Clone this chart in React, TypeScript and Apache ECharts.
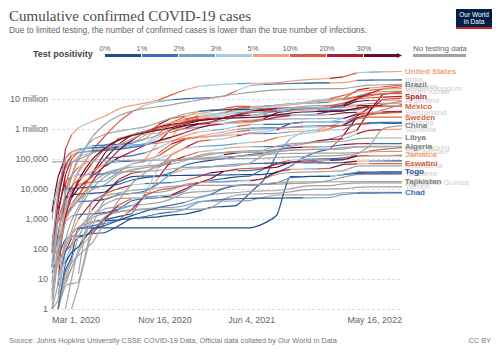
import React, { useEffect, useRef } from "react";
import * as echarts from "echarts";

const DATES = ["2020-03-01","2020-03-15","2020-04-01","2020-04-15","2020-05-01","2020-06-01","2020-07-01","2020-08-01","2020-09-01","2020-10-01","2020-11-01","2020-12-01","2021-01-01","2021-02-01","2021-03-01","2021-04-01","2021-05-01","2021-06-01","2021-07-01","2021-08-01","2021-09-01","2021-10-01","2021-11-01","2021-12-01","2022-01-01","2022-02-01","2022-03-01","2022-04-01","2022-05-16"];
const X_TICKS = ["2020-03-01", "2020-11-16", "2021-06-04", "2022-05-16"];
const POSITIVITY_TICKS = ["0%", "1%", "2%", "3%", "5%", "10%", "20%", "30%"];
const BAND_COLORS = ["#1f4e8c", "#3a6fb4", "#6aa3d0", "#a6cbe2", "#f0a17c", "#d9603f", "#b01c34", "#6e0b25", "#a3a3a3"];
const NO_DATA_LABEL = "No testing data";

// ---- labelled countries ----
const US = [75, 3500, 215e3, 640e3, 1.1e6, 1.8e6, 2.7e6, 4.6e6, 6.1e6, 7.3e6, 9.2e6, 13.7e6, 20e6, 26.3e6, 28.8e6, 30.5e6, 32.4e6, 33.3e6, 33.7e6, 35.2e6, 39.5e6, 43.6e6, 46.2e6, 48.6e6, 54.8e6, 74.6e6, 79.2e6, 80.2e6, 82.6e6];
const US_B = "56654344444554333244444465324";
const BRAZIL = [2, 200, 6.8e3, 28e3, 92e3, 530e3, 1.45e6, 2.7e6, 3.95e6, 4.85e6, 5.55e6, 6.4e6, 7.7e6, 9.2e6, 10.6e6, 12.8e6, 14.7e6, 16.6e6, 18.6e6, 20e6, 20.8e6, 21.4e6, 21.9e6, 22.1e6, 22.3e6, 25.9e6, 28.8e6, 29.9e6, 30.7e6];
const SPAIN = [84, 7.8e3, 104e3, 177e3, 215e3, 240e3, 250e3, 290e3, 470e3, 770e3, 1.26e6, 1.65e6, 1.93e6, 2.8e6, 3.17e6, 3.3e6, 3.55e6, 3.7e6, 3.82e6, 4.45e6, 4.87e6, 4.96e6, 5.03e6, 5.2e6, 6.3e6, 10.0e6, 11.0e6, 11.6e6, 12.3e6];
const SPAIN_B = "88884213445445333245322467556";
const MEXICO = [4, 41, 1.2e3, 5.4e3, 20e3, 94e3, 230e3, 425e3, 600e3, 750e3, 930e3, 1.11e6, 1.43e6, 1.87e6, 2.09e6, 2.25e6, 2.35e6, 2.43e6, 2.59e6, 2.9e6, 3.4e6, 3.68e6, 3.83e6, 3.9e6, 3.98e6, 5.0e6, 5.5e6, 5.7e6, 5.75e6];
const MEXICO_B = "88667777777777777777777777655";
const SWEDEN = [7, 1.0e3, 4.9e3, 12e3, 21e3, 38e3, 70e3, 81e3, 84e3, 94e3, 125e3, 244e3, 437e3, 567e3, 680e3, 800e3, 980e3, 1.07e6, 1.09e6, 1.1e6, 1.14e6, 1.15e6, 1.18e6, 1.22e6, 1.32e6, 2.2e6, 2.47e6, 2.49e6, 2.5e6];
const SWEDEN_B = "88565442124554444211223456555";
const CHINA = [80e3, 81e3, 82e3, 82.5e3, 83e3, 83.5e3, 84.8e3, 88e3, 90e3, 90.6e3, 91.4e3, 93e3, 96e3, 100e3, 101e3, 102e3, 102.8e3, 104e3, 106e3, 112e3, 116e3, 120e3, 125e3, 128e3, 135e3, 150e3, 260e3, 1.0e6, 1.3e6];
const LIBYA = [null, null, 10, 35, 61, 156, 800, 4.0e3, 15e3, 35e3, 64e3, 90e3, 100e3, 120e3, 140e3, 165e3, 180e3, 190e3, 200e3, 270e3, 320e3, 340e3, 360e3, 375e3, 390e3, 470e3, 500e3, 501e3, 502e3];
const ALGERIA = [1, 48, 850, 2.2e3, 4.15e3, 9.5e3, 14e3, 31e3, 44.5e3, 51.5e3, 58e3, 83e3, 99.6e3, 107e3, 113e3, 117e3, 123e3, 129e3, 140e3, 176e3, 198e3, 204e3, 207e3, 209e3, 218e3, 253e3, 265e3, 265.7e3, 265.8e3];
const JAMAICA = [null, 10, 44, 105, 470, 590, 700, 900, 2.1e3, 6.0e3, 9.0e3, 10.7e3, 13e3, 16e3, 22e3, 39e3, 46e3, 49e3, 50.5e3, 53e3, 79e3, 86e3, 90e3, 91.7e3, 96e3, 125e3, 129e3, 130e3, 136e3];
const JAMAICA_B = "88334112565555676557765477544";
const ESWATINI = [null, 1, 9, 22, 100, 300, 1.0e3, 2.9e3, 4.8e3, 5.4e3, 5.9e3, 6.4e3, 9.9e3, 16.5e3, 17.1e3, 17.4e3, 18.4e3, 18.6e3, 22e3, 38e3, 45e3, 46.5e3, 46.9e3, 49e3, 66e3, 69e3, 69.5e3, 70e3, 70.5e3];
const ESWATINI_B = "88883456532366422367642576455";
const TOGO = [null, 1, 34, 77, 120, 440, 600, 900, 1.3e3, 1.8e3, 2.4e3, 2.9e3, 3.6e3, 5.0e3, 6.5e3, 10.5e3, 12.9e3, 13.5e3, 14.2e3, 16e3, 24e3, 26e3, 26.3e3, 26.5e3, 31e3, 36.5e3, 36.9e3, 36.95e3, 37e3];
const TOGO_B = "88100001001112211001210032000";
const TAJIKISTAN = [null, null, null, null, 15, 4.0e3, 6.0e3, 7.4e3, 8.9e3, 9.9e3, 11e3, 12.3e3, 13.3e3, 13.3e3, 13.3e3, 13.3e3, 13.3e3, 13.3e3, 14.5e3, 16.5e3, 17e3, 17.3e3, 17.35e3, 17.4e3, 17.5e3, 17.7e3, 17.75e3, 17.78e3, 17.8e3];
const CHAD = [null, null, 7, 23, 73, 780, 870, 940, 1.03e3, 1.2e3, 1.5e3, 1.7e3, 2.1e3, 3.6e3, 4.2e3, 4.5e3, 4.8e3, 4.9e3, 4.95e3, 5.0e3, 5.03e3, 5.05e3, 5.1e3, 5.2e3, 6.6e3, 7.2e3, 7.3e3, 7.35e3, 7.4e3];
const CHAD_B = "88888880011122211100002222111";

// ---- background-labelled countries ----
const INDIA = [3, 110, 1.9e3, 12e3, 35e3, 190e3, 585e3, 1.7e6, 3.7e6, 6.3e6, 8.2e6, 9.46e6, 10.3e6, 10.75e6, 11.1e6, 12.2e6, 19.2e6, 28.2e6, 30.4e6, 31.7e6, 32.8e6, 33.8e6, 34.3e6, 34.6e6, 34.9e6, 41.6e6, 42.9e6, 43.02e6, 43.1e6];
const INDIA_B = "88334455543211145321110044100";
const GERMANY = [117, 5.8e3, 72e3, 128e3, 160e3, 182e3, 195e3, 208e3, 243e3, 292e3, 530e3, 1.06e6, 1.76e6, 2.23e6, 2.44e6, 2.86e6, 3.4e6, 3.69e6, 3.74e6, 3.78e6, 3.99e6, 4.24e6, 4.79e6, 5.96e6, 7.13e6, 9.9e6, 15.0e6, 21.6e6, 25.9e6];
const GERMANY_B = "88653211113455433211244556665";
const UK = [36, 1.4e3, 30e3, 99e3, 178e3, 276e3, 290e3, 305e3, 338e3, 460e3, 1.03e6, 1.64e6, 2.5e6, 3.85e6, 4.19e6, 4.35e6, 4.43e6, 4.49e6, 4.85e6, 5.88e6, 6.8e6, 7.8e6, 9.13e6, 10.3e6, 13.2e6, 17.5e6, 19.3e6, 21.2e6, 22.2e6];
const UK_B = "88765311124454100023333355454";
const KOREA = [3.7e3, 8.1e3, 9.9e3, 10.6e3, 10.8e3, 11.5e3, 12.8e3, 14.3e3, 20e3, 23.9e3, 26.7e3, 35e3, 61.8e3, 78.5e3, 90e3, 103e3, 123e3, 141e3, 157e3, 202e3, 261e3, 317e3, 370e3, 460e3, 630e3, 905e3, 3.69e6, 13.9e6, 17.9e6];
const KOREA_B = "83210000100111001112222325775";
const ARGENTINA = [null, 45, 1.05e3, 2.4e3, 4.4e3, 17e3, 65e3, 191e3, 418e3, 780e3, 1.17e6, 1.43e6, 1.63e6, 1.93e6, 2.12e6, 2.39e6, 3.0e6, 3.78e6, 4.5e6, 4.94e6, 5.2e6, 5.26e6, 5.3e6, 5.35e6, 5.7e6, 8.3e6, 8.9e6, 9.04e6, 9.1e6];
const ARGENTINA_B = "88455566777766656676543227754";
const SWITZERLAND = [24, 2.2e3, 17.8e3, 26e3, 29.6e3, 30.8e3, 31.7e3, 35.4e3, 42e3, 52e3, 155e3, 319e3, 453e3, 520e3, 557e3, 601e3, 660e3, 694e3, 704e3, 722e3, 802e3, 847e3, 882e3, 1.05e6, 1.39e6, 2.36e6, 2.97e6, 3.39e6, 3.6e6];
const SWITZERLAND_B = "88653212333565443321243456655";
const GEORGIA = [null, 33, 115, 300, 540, 800, 935, 1.2e3, 1.5e3, 6.8e3, 52e3, 135e3, 227e3, 258e3, 274e3, 290e3, 325e3, 357e3, 385e3, 520e3, 620e3, 700e3, 800e3, 935e3, 940e3, 1.47e6, 1.64e6, 1.652e6, 1.655e6];
const GEORGIA_B = "88888810013543222345433435511";
const SLOVENIA = [null, 181, 814, 1.25e3, 1.43e3, 1.47e3, 1.62e3, 2.1e3, 2.8e3, 4.8e3, 24e3, 82e3, 123e3, 171e3, 191e3, 223e3, 248e3, 256e3, 257e3, 260e3, 287e3, 330e3, 400e3, 450e3, 468e3, 690e3, 900e3, 960e3, 990e3];
const SLOVENIA_B = "88542101234665434421145663664";
const LUXEMBOURG = [null, 38, 2.3e3, 3.3e3, 3.8e3, 4.0e3, 4.5e3, 6.6e3, 7.1e3, 8.6e3, 15e3, 33e3, 46e3, 50e3, 55e3, 62e3, 67e3, 70e3, 71e3, 74e3, 77e3, 79e3, 84e3, 93e3, 102e3, 150e3, 185e3, 210e3, 240e3];
const LUXEMBOURG_B = "88443100111243222210111123455";
const AFGHANISTAN = [1, 7, 190, 900, 2.5e3, 15.2e3, 31.8e3, 36.7e3, 38.2e3, 39.3e3, 41.7e3, 46.5e3, 52.3e3, 55e3, 55.7e3, 56.9e3, 60e3, 75e3, 135e3, 149e3, 153e3, 155e3, 157e3, 158e3, 158.1e3, 163e3, 174e3, 178e3, 179e3];
const MAURITANIA = [null, 1, 6, 7, 8, 530, 4.5e3, 6.2e3, 7.2e3, 7.5e3, 7.7e3, 9.4e3, 14.4e3, 16.5e3, 17.3e3, 18e3, 19e3, 19.8e3, 22e3, 31e3, 35.5e3, 36.6e3, 37.4e3, 39e3, 40.8e3, 58e3, 58.6e3, 58.7e3, 58.7e3];
const TANZANIA = [null, 1, 20, 53, 480, 509, 509, 509, 509, 509, 509, 509, 509, 509, 509, 509, 509, 509, 700, 1.37e3, 25.8e3, 26.0e3, 26.2e3, 26.5e3, 30e3, 33.1e3, 33.7e3, 33.8e3, 33.9e3];
const TANZANIA_B = "880";
const EQ_GUINEA = [null, 1, 15, 41, 258, 1.3e3, 3.1e3, 4.8e3, 5.0e3, 5.06e3, 5.1e3, 5.2e3, 5.3e3, 5.4e3, 6.5e3, 7.2e3, 7.6e3, 8.4e3, 8.7e3, 8.9e3, 10.2e3, 12.2e3, 12.9e3, 13.0e3, 14.8e3, 15.8e3, 15.9e3, 15.9e3, 15.9e3];
const YEMEN = [null, null, null, 1, 6, 320, 1.2e3, 1.7e3, 1.95e3, 2.04e3, 2.06e3, 2.1e3, 2.1e3, 2.12e3, 2.3e3, 4.5e3, 6.3e3, 6.8e3, 6.95e3, 7.1e3, 8.0e3, 9.3e3, 9.9e3, 10.1e3, 10.2e3, 11.3e3, 11.75e3, 11.8e3, 11.82e3];

// ---- unlabelled countries ----
const FRANCE = [130, 5.4e3, 57e3, 134e3, 168e3, 189e3, 202e3, 225e3, 320e3, 620e3, 1.4e6, 2.27e6, 2.7e6, 3.28e6, 3.75e6, 4.75e6, 5.67e6, 5.72e6, 5.85e6, 6.2e6, 6.95e6, 7.1e6, 7.35e6, 7.95e6, 10.2e6, 19.7e6, 23.1e6, 25.5e6, 29.3e6];
const FRANCE_B = "88765311245654445531242135645";
const ITALY = [1.7e3, 24.7e3, 110e3, 165e3, 206e3, 233e3, 241e3, 247e3, 269e3, 314e3, 680e3, 1.6e6, 2.1e6, 2.55e6, 2.94e6, 3.6e6, 4.04e6, 4.22e6, 4.26e6, 4.36e6, 4.54e6, 4.67e6, 4.78e6, 5.03e6, 6.4e6, 11.1e6, 12.8e6, 14.7e6, 17.2e6];
const ITALY_B = "87754211123544344311211234555";
const RUSSIA = [null, 63, 2.8e3, 24.5e3, 114e3, 415e3, 654e3, 845e3, 1.0e6, 1.18e6, 1.64e6, 2.32e6, 3.16e6, 3.83e6, 4.26e6, 4.54e6, 4.81e6, 5.11e6, 5.61e6, 6.27e6, 6.94e6, 7.55e6, 8.6e6, 9.7e6, 10.5e6, 12.3e6, 16.3e6, 17.5e6, 18.2e6];
const TURKEY = [null, 6, 13.5e3, 69e3, 122e3, 164e3, 200e3, 231e3, 273e3, 318e3, 372e3, 500e3, 2.2e6, 2.49e6, 2.7e6, 3.3e6, 4.85e6, 5.25e6, 5.44e6, 5.76e6, 6.35e6, 7.15e6, 8.3e6, 8.93e6, 9.55e6, 11.6e6, 14.3e6, 14.9e6, 15.07e6];
const TURKEY_B = "88654322333345435543444445655";
const JAPAN = [240, 810, 2.4e3, 8.1e3, 14.3e3, 16.9e3, 18.8e3, 36e3, 68e3, 83e3, 101e3, 147e3, 235e3, 388e3, 432e3, 472e3, 592e3, 747e3, 800e3, 935e3, 1.52e6, 1.71e6, 1.72e6, 1.727e6, 1.733e6, 2.71e6, 5.0e6, 6.5e6, 8.4e6];
const JAPAN_B = "85677522553346534643772111765";
const IRAN = [980, 13.9e3, 47.6e3, 76.4e3, 95.6e3, 154e3, 230e3, 305e3, 375e3, 461e3, 620e3, 962e3, 1.23e6, 1.42e6, 1.65e6, 1.95e6, 2.52e6, 2.9e6, 3.25e6, 4.02e6, 5.1e6, 5.6e6, 5.99e6, 6.13e6, 6.2e6, 6.31e6, 7.07e6, 7.18e6, 7.23e6];
const COLOMBIA = [null, 34, 1.07e3, 3.1e3, 6.5e3, 30e3, 100e3, 295e3, 616e3, 830e3, 1.05e6, 1.3e6, 1.64e6, 2.1e6, 2.25e6, 2.43e6, 2.9e6, 3.48e6, 4.26e6, 4.78e6, 4.91e6, 4.96e6, 5.01e6, 5.08e6, 5.18e6, 5.86e6, 6.07e6, 6.09e6, 6.1e6];
const COLOMBIA_B = "88345567776556655677632224753";
const PERU = [null, 38, 1.06e3, 10.3e3, 40.5e3, 165e3, 286e3, 423e3, 652e3, 818e3, 903e3, 964e3, 1.02e6, 1.15e6, 1.34e6, 1.55e6, 1.84e6, 1.98e6, 2.07e6, 2.12e6, 2.16e6, 2.18e6, 2.21e6, 2.25e6, 2.3e6, 3.2e6, 3.5e6, 3.54e6, 3.57e6];
const CANADA = [24, 340, 9.5e3, 28e3, 54e3, 91e3, 104e3, 116e3, 129e3, 159e3, 235e3, 378e3, 590e3, 787e3, 875e3, 990e3, 1.23e6, 1.39e6, 1.42e6, 1.43e6, 1.5e6, 1.64e6, 1.72e6, 1.8e6, 2.23e6, 3.06e6, 3.3e6, 3.46e6, 3.85e6];
const CANADA_B = "82355431112344323531123337656";
const AUSTRALIA = [27, 300, 4.8e3, 6.4e3, 6.8e3, 7.2e3, 7.9e3, 17e3, 25.7e3, 27.1e3, 27.6e3, 27.9e3, 28.4e3, 28.8e3, 29e3, 29.3e3, 29.8e3, 30.1e3, 30.9e3, 35e3, 57e3, 111e3, 169e3, 213e3, 612e3, 2.45e6, 3.1e6, 4.3e6, 6.7e6];
const AUSTRALIA_B = "81100000000000000000111157455";
const POLAND = [null, 119, 2.5e3, 7.6e3, 12.9e3, 23.8e3, 34.4e3, 46e3, 67e3, 95e3, 380e3, 1.0e6, 1.3e6, 1.52e6, 1.71e6, 2.36e6, 2.8e6, 2.87e6, 2.88e6, 2.88e6, 2.89e6, 2.93e6, 3.2e6, 3.8e6, 4.1e6, 4.9e6, 5.7e6, 5.98e6, 6.0e6];
const POLAND_B = "88334432334677667731113677775";
const INDONESIA = [null, 117, 1.68e3, 5.1e3, 10.5e3, 26.5e3, 57.8e3, 109e3, 177e3, 287e3, 411e3, 538e3, 751e3, 1.08e6, 1.33e6, 1.51e6, 1.67e6, 1.82e6, 2.2e6, 3.44e6, 4.1e6, 4.22e6, 4.25e6, 4.26e6, 4.26e6, 4.35e6, 5.59e6, 6.02e6, 6.05e6];
const INDONESIA_B = "88887667666766765557763101563";
const VIETNAM = [16, 56, 212, 268, 270, 328, 355, 590, 1.04e3, 1.1e3, 1.18e3, 1.35e3, 1.47e3, 1.84e3, 2.45e3, 2.6e3, 2.9e3, 7.6e3, 19e3, 150e3, 480e3, 790e3, 955e3, 1.27e6, 1.73e6, 2.1e6, 3.9e6, 9.7e6, 10.7e6];
const VIETNAM_B = "80000000000000000001233333465";
const SOUTH_AFRICA = [null, 51, 1.35e3, 2.6e3, 5.6e3, 32.7e3, 159e3, 482e3, 628e3, 674e3, 725e3, 790e3, 1.06e6, 1.45e6, 1.51e6, 1.55e6, 1.58e6, 1.67e6, 2.0e6, 2.48e6, 2.78e6, 2.91e6, 2.92e6, 2.99e6, 3.46e6, 3.61e6, 3.68e6, 3.72e6, 3.86e6];
const SOUTH_AFRICA_B = "88323576533457633456632267436";
const PAKISTAN = [4, 53, 2.0e3, 6.5e3, 16.8e3, 72e3, 213e3, 278e3, 296e3, 313e3, 333e3, 400e3, 482e3, 550e3, 581e3, 672e3, 821e3, 924e3, 960e3, 1.04e6, 1.13e6, 1.25e6, 1.28e6, 1.29e6, 1.3e6, 1.45e6, 1.52e6, 1.526e6, 1.529e6];
const PAKISTAN_B = "88666655322455434533552111621";
const KENYA = [null, 3, 81, 234, 396, 1.96e3, 6.9e3, 20.6e3, 34e3, 38.5e3, 54e3, 84e3, 96.6e3, 101e3, 106e3, 140e3, 161e3, 171e3, 185e3, 205e3, 236e3, 250e3, 254e3, 256e3, 300e3, 322e3, 323e3, 323.7e3, 324e3];
const KENYA_B = "88864467654674237545675217611";
const NIGERIA = [1, 2, 139, 407, 1.93e3, 10.2e3, 25.7e3, 43.2e3, 53.7e3, 58.8e3, 62.9e3, 67.4e3, 87.5e3, 131e3, 156e3, 163e3, 165e3, 167e3, 168e3, 177e3, 193e3, 206e3, 212e3, 214e3, 243e3, 253e3, 254.8e3, 255.5e3, 256e3];
const SENEGAL = [null, 24, 190, 315, 1.0e3, 3.7e3, 6.9e3, 10.3e3, 13.6e3, 15e3, 15.6e3, 16.2e3, 19.2e3, 25.5e3, 34.7e3, 39e3, 40.6e3, 41.5e3, 48e3, 68e3, 73.4e3, 73.9e3, 74e3, 74.1e3, 75.6e3, 85.2e3, 85.8e3, 85.9e3, 86e3];
const SENEGAL_B = "88434655631125673116731017410";
const RWANDA = [null, 7, 82, 138, 243, 370, 1.04e3, 2.1e3, 4.06e3, 4.8e3, 5.2e3, 5.9e3, 8.4e3, 15.5e3, 19.5e3, 22.3e3, 25.4e3, 27.1e3, 46.7e3, 73.3e3, 91e3, 98e3, 100e3, 101e3, 109e3, 129e3, 129.5e3, 129.7e3, 129.8e3];
const RWANDA_B = "88111000110012210016531006400";
const MALI = [null, null, 31, 144, 490, 1.27e3, 2.2e3, 2.5e3, 2.8e3, 3.1e3, 3.5e3, 4.7e3, 7.3e3, 8.1e3, 8.5e3, 10.6e3, 13.6e3, 14.3e3, 14.4e3, 14.6e3, 15.1e3, 15.5e3, 16.5e3, 19.5e3, 25e3, 30e3, 30.5e3, 30.6e3, 31e3];
const SIERRA_LEONE = [null, null, 1, 10, 101, 1.06e3, 1.52e3, 1.8e3, 2.03e3, 2.2e3, 2.37e3, 2.4e3, 2.8e3, 3.8e3, 3.9e3, 3.96e3, 4.0e3, 4.17e3, 5.3e3, 6.3e3, 6.4e3, 6.4e3, 6.4e3, 6.4e3, 7.5e3, 7.65e3, 7.67e3, 7.67e3, 7.68e3];

type Kind = "bold" | "faint" | "none";
type Country = { name: string; values: (number | null)[]; bands: string; kind: Kind };

const COUNTRIES: Country[] = [
  { name: "France", values: FRANCE, bands: FRANCE_B, kind: "none" },
  { name: "Italy", values: ITALY, bands: ITALY_B, kind: "none" },
  { name: "Russia", values: RUSSIA, bands: "8", kind: "none" },
  { name: "Turkey", values: TURKEY, bands: TURKEY_B, kind: "none" },
  { name: "Japan", values: JAPAN, bands: JAPAN_B, kind: "none" },
  { name: "Iran", values: IRAN, bands: "8", kind: "none" },
  { name: "Colombia", values: COLOMBIA, bands: COLOMBIA_B, kind: "none" },
  { name: "Peru", values: PERU, bands: "8", kind: "none" },
  { name: "Canada", values: CANADA, bands: CANADA_B, kind: "none" },
  { name: "Australia", values: AUSTRALIA, bands: AUSTRALIA_B, kind: "none" },
  { name: "Poland", values: POLAND, bands: POLAND_B, kind: "none" },
  { name: "Indonesia", values: INDONESIA, bands: INDONESIA_B, kind: "none" },
  { name: "Vietnam", values: VIETNAM, bands: VIETNAM_B, kind: "none" },
  { name: "South Africa", values: SOUTH_AFRICA, bands: SOUTH_AFRICA_B, kind: "none" },
  { name: "Pakistan", values: PAKISTAN, bands: PAKISTAN_B, kind: "none" },
  { name: "Kenya", values: KENYA, bands: KENYA_B, kind: "none" },
  { name: "Nigeria", values: NIGERIA, bands: "8", kind: "none" },
  { name: "Senegal", values: SENEGAL, bands: SENEGAL_B, kind: "none" },
  { name: "Rwanda", values: RWANDA, bands: RWANDA_B, kind: "none" },
  { name: "Mali", values: MALI, bands: "8", kind: "none" },
  { name: "Sierra Leone", values: SIERRA_LEONE, bands: "8", kind: "none" },
  { name: "India", values: INDIA, bands: INDIA_B, kind: "faint" },
  { name: "Germany", values: GERMANY, bands: GERMANY_B, kind: "faint" },
  { name: "United Kingdom", values: UK, bands: UK_B, kind: "faint" },
  { name: "South Korea", values: KOREA, bands: KOREA_B, kind: "faint" },
  { name: "Argentina", values: ARGENTINA, bands: ARGENTINA_B, kind: "faint" },
  { name: "Switzerland", values: SWITZERLAND, bands: SWITZERLAND_B, kind: "faint" },
  { name: "Georgia", values: GEORGIA, bands: GEORGIA_B, kind: "faint" },
  { name: "Slovenia", values: SLOVENIA, bands: SLOVENIA_B, kind: "faint" },
  { name: "Luxembourg", values: LUXEMBOURG, bands: LUXEMBOURG_B, kind: "faint" },
  { name: "Afghanistan", values: AFGHANISTAN, bands: "8", kind: "faint" },
  { name: "Mauritania", values: MAURITANIA, bands: "8", kind: "faint" },
  { name: "Tanzania", values: TANZANIA, bands: TANZANIA_B, kind: "faint" },
  { name: "Equatorial Guinea", values: EQ_GUINEA, bands: "8", kind: "faint" },
  { name: "Yemen", values: YEMEN, bands: "8", kind: "faint" },
  { name: "United States", values: US, bands: US_B, kind: "bold" },
  { name: "Brazil", values: BRAZIL, bands: "8", kind: "bold" },
  { name: "Spain", values: SPAIN, bands: SPAIN_B, kind: "bold" },
  { name: "Mexico", values: MEXICO, bands: MEXICO_B, kind: "bold" },
  { name: "Sweden", values: SWEDEN, bands: SWEDEN_B, kind: "bold" },
  { name: "China", values: CHINA, bands: "8", kind: "bold" },
  { name: "Libya", values: LIBYA, bands: "8", kind: "bold" },
  { name: "Algeria", values: ALGERIA, bands: "8", kind: "bold" },
  { name: "Jamaica", values: JAMAICA, bands: JAMAICA_B, kind: "bold" },
  { name: "Eswatini", values: ESWATINI, bands: ESWATINI_B, kind: "bold" },
  { name: "Togo", values: TOGO, bands: TOGO_B, kind: "bold" },
  { name: "Tajikistan", values: TAJIKISTAN, bands: "8", kind: "bold" },
  { name: "Chad", values: CHAD, bands: CHAD_B, kind: "bold" },
];

const FONT = "'Liberation Sans', Arial, sans-serif";
const MONTHS = ["Jan", "Feb", "Mar", "Apr", "May", "Jun", "Jul", "Aug", "Sep", "Oct", "Nov", "Dec"];

function T(s: string): number {
  const [y, m, d] = s.split("-").map(Number);
  return Date.UTC(y, m - 1, d);
}

function fmtDate(v: number): string {
  const d = new Date(v);
  return `${MONTHS[d.getUTCMonth()]} ${d.getUTCDate()}, ${d.getUTCFullYear()}`;
}

function padBands(s: string): string {
  let r = s;
  while (r.length < DATES.length) r += r[r.length - 1];
  return r.slice(0, DATES.length);
}

function buildSeries(): any[] {
  const out: any[] = [];
  COUNTRIES.forEach((c) => {
    const b = padBands(c.bands);
    const pts = DATES.map((d, i) => [T(d), c.values[i]]);
    const first = c.values.findIndex((v) => v != null);
    const runs: { band: number; start: number; end: number }[] = [];
    for (let i = first + 1; i < DATES.length; i++) {
      const band = Number(b[i]);
      const last = runs[runs.length - 1];
      if (last && last.band === band) last.end = i;
      else runs.push({ band, start: i - 1, end: i });
    }
    runs.forEach((r, k) => {
      const isLast = k === runs.length - 1;
      const labelColor =
        c.kind === "faint" ? "#d0d0d0" : r.band === 8 ? "#7f7f7f" : BAND_COLORS[r.band];
      out.push({
        type: "line",
        name: c.name,
        data: pts.slice(r.start, r.end + 1),
        symbol: "none",
        smooth: 0.2,
        silent: true,
        z: c.kind === "bold" ? 4 : c.kind === "faint" ? 3 : 2,
        lineStyle: { width: 1.2, color: BAND_COLORS[r.band] },
        emphasis: { disabled: true },
        endLabel:
          isLast && c.kind !== "none"
            ? {
                show: true,
                formatter: c.name,
                color: labelColor,
                fontSize: 8,
                fontFamily: FONT,
                fontWeight: c.kind === "bold" ? "bold" : "normal",
                distance: 3,
              }
            : { show: false },
      });
    });
  });
  return out;
}

function buildGraphics(): any[] {
  const g: any[] = [];
  const txt = (text: string, x: number, y: number, font: string, fill: string, align = "left") => ({
    type: "text",
    x,
    y,
    silent: true,
    style: { text, font, fill, align, verticalAlign: "middle" },
  });
  g.push(txt("Cumulative confirmed COVID-19 cases", 9, 16, "15px 'Liberation Serif', serif", "#4d4d4d"));
  g.push(
    txt(
      "Due to limited testing, the number of confirmed cases is lower than the true number of infections.",
      9,
      29.5,
      `8.4px ${FONT}`,
      "#666"
    )
  );
  g.push(txt("Test positivity", 33, 54, `bold 9px ${FONT}`, "#444"));
  const x0 = 105;
  const seg = 37;
  POSITIVITY_TICKS.forEach((t, i) => {
    const isLast = i === POSITIVITY_TICKS.length - 1;
    g.push({
      type: "rect",
      silent: true,
      shape: { x: x0 + i * seg, y: 54, width: isLast ? seg - 4 : seg - 1, height: 3 },
      style: { fill: BAND_COLORS[i] },
    });
    if (isLast) {
      const xe = x0 + i * seg + seg - 4;
      g.push({
        type: "polygon",
        silent: true,
        shape: { points: [[xe, 53], [xe + 5, 55.5], [xe, 58]] },
        style: { fill: BAND_COLORS[i] },
      });
    }
    g.push(txt(t, x0 + i * seg, 48.3, `7.5px ${FONT}`, "#666", "center"));
  });
  g.push(txt(NO_DATA_LABEL, 413, 48.3, `8px ${FONT}`, "#666"));
  g.push({ type: "rect", silent: true, shape: { x: 413, y: 54, width: 53, height: 3 }, style: { fill: BAND_COLORS[8] } });
  g.push({ type: "rect", silent: true, shape: { x: 456, y: 9, width: 36, height: 20 }, style: { fill: "#002147" } });
  g.push({ type: "rect", silent: true, shape: { x: 456, y: 27, width: 36, height: 2 }, style: { fill: "#ce261e" } });
  g.push(txt("Our World", 474, 14.5, `6.5px ${FONT}`, "#fff", "center"));
  g.push(txt("in Data", 474, 21.5, `6.5px ${FONT}`, "#fff", "center"));
  g.push(
    txt(
      "Source: Johns Hopkins University CSSE COVID-19 Data, Official data collated by Our World in Data",
      9,
      340.5,
      `7.4px ${FONT}`,
      "#777"
    )
  );
  g.push(txt("CC BY", 491, 340.5, `7.4px ${FONT}`, "#777", "right"));
  return g;
}

export default function App() {
  const ref = useRef<HTMLDivElement>(null);
  useEffect(() => {
    if (!ref.current) return;
    const chart = echarts.init(ref.current, undefined, { renderer: "svg" });
    chart.setOption({
      animation: false,
      backgroundColor: "#fff",
      textStyle: { fontFamily: FONT },
      grid: { left: 52, right: 98, top: 69, bottom: 44 },
      xAxis: {
        type: "value",
        min: T(DATES[0]),
        max: T(DATES[DATES.length - 1]),
        axisLine: { show: false },
        axisTick: { show: false },
        splitLine: { show: false },
        axisLabel: {
          customValues: X_TICKS.map(T),
          color: "#666",
          fontSize: 9,
          margin: 6,
          alignMinLabel: "left",
          alignMaxLabel: "right",
          formatter: (v: number) => fmtDate(v),
        },
      },
      yAxis: {
        type: "log",
        logBase: 10,
        min: 1,
        max: 1e8,
        axisLine: { show: false },
        axisTick: { show: false },
        splitLine: {
          show: true,
          showMaxLine: false,
          lineStyle: { color: "#dcdcdc", type: [3, 2], width: 1 },
        },
        axisLabel: {
          color: "#666",
          fontSize: 9,
          margin: 4,
          showMaxLabel: false,
          formatter: (v: number) => {
            const r = Math.round(v);
            if (r >= 1e6) return `${r / 1e6} million`;
            return r.toLocaleString("en-US");
          },
        },
      },
      graphic: buildGraphics(),
      series: buildSeries(),
    });
    return () => chart.dispose();
  }, []);
  return (
    <div
      ref={ref}
      style={{ position: "fixed", left: 0, top: 0, width: 500, height: 353, background: "#fff" }}
    />
  );
}
